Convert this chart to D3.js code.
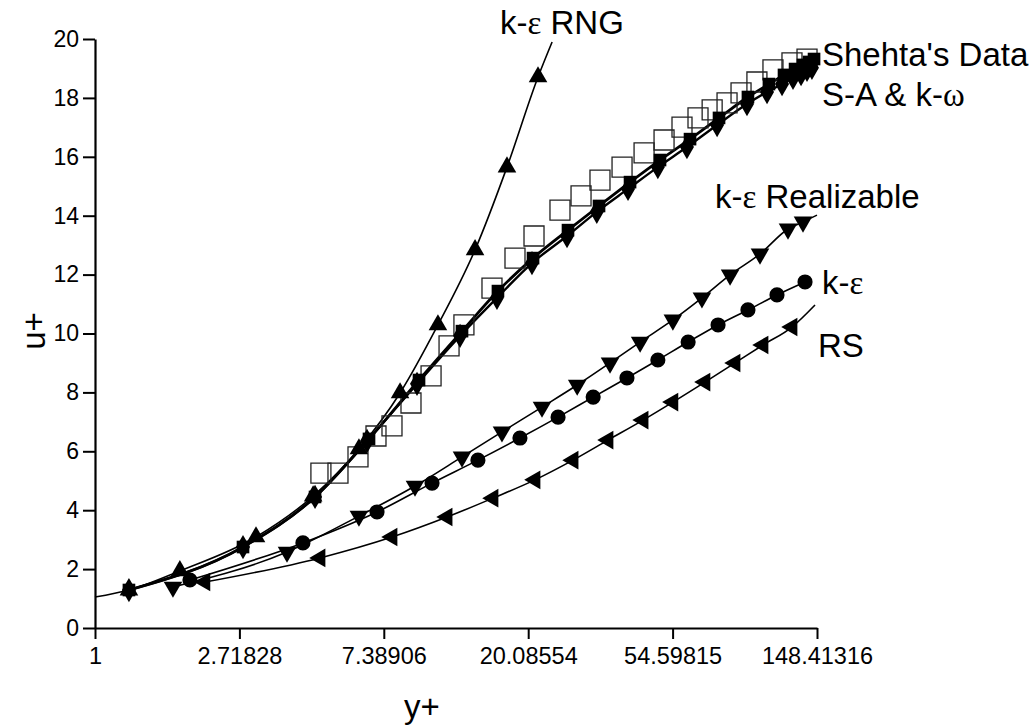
<!DOCTYPE html>
<html><head><meta charset="utf-8">
<script src="https://cdn.jsdelivr.net/npm/d3@7"></script>
<style>body{margin:0;background:#fff}svg{display:block}</style>
</head><body>
<svg id="chart" width="1032" height="725"></svg>
<script>
// ---- data (x = y+, y = u+) ----
const xTickLabels = ["1","2.71828","7.38906","20.08554","54.59815","148.41316"];
const yTicks = [0,2,4,6,8,10,12,14,16,18,20];

const shehtaX = [4.78,5.38,6.18,7.00,7.82,8.92,10.25,11.61,12.87,15.63,18.33,20.91,25.03,28.96,33.02,38.47,44.81,51.46,58.27,65.1,71.8,79.6,87.7,97.9,109.4,124.8,138.5];
const shehtaY = [5.26,5.26,5.81,6.52,6.86,7.64,8.56,9.58,10.29,11.54,12.56,13.31,14.19,14.67,15.21,15.65,16.13,16.57,17.01,17.32,17.59,17.83,18.17,18.54,18.95,19.19,19.32];

const saX = [1.265,2.787,4.59,6.67,9.43,12.70,16.29,20.77,26.46,32.8,40.66,50.04,61.6,75.3,92.0,106.4,118.1,127.5,134.7,140.5,145.4];
const saY = [1.29,2.75,4.45,6.42,8.42,10.08,11.44,12.56,13.51,14.33,15.14,15.89,16.60,17.32,18.03,18.47,18.78,18.98,19.12,19.22,19.32];

const kwX = [1.265,2.787,4.59,6.58,9.30,12.53,16.18,20.62,26.28,32.3,40.1,49.3,60.3,74.3,91.4,105.0,116.5,125.7,132.9,138.5,143.3];
const kwY = [1.29,2.75,4.45,6.35,8.29,9.92,11.21,12.39,13.31,14.13,14.91,15.65,16.33,17.08,17.79,18.20,18.47,18.68,18.81,18.95,19.02];

// first and last entries are line-only (no symbol)
const rngX = [1.0,1.265,1.80,3.05,4.53,6.22,8.27,10.75,13.90,17.34,21.5,23.7];
const rngY = [1.05,1.29,1.94,3.09,4.48,6.08,7.98,10.29,12.84,15.65,18.71,19.90];

const realX = [1.716,3.78,6.22,9.17,12.70,16.75,22.1,28.2,35.4,43.6,54.7,66.9,81.3,100.0,121.4,134.7,148.4];
const realY = [1.39,2.58,3.80,4.82,5.81,6.66,7.50,8.25,9.00,9.71,10.46,11.21,11.99,12.70,13.55,13.79,14.02];

const keX = [1.93,4.22,7.05,10.32,14.18,18.97,24.7,31.5,39.8,49.3,60.8,74.8,92.0,112.5,136.6];
const keY = [1.63,2.89,3.94,4.92,5.70,6.45,7.16,7.84,8.49,9.10,9.71,10.29,10.80,11.31,11.75];

const rsX = [2.14,4.75,7.82,11.45,15.74,21.05,27.4,34.9,44.5,54.7,68.3,84.1,102.1,124.8,146.4];
const rsY = [1.56,2.38,3.09,3.77,4.41,5.03,5.70,6.38,7.06,7.67,8.35,9.00,9.61,10.22,10.97];

// ---- chart ----
const svg = d3.select("#chart");
const x = d3.scaleLog().base(Math.E).domain([1, Math.exp(5)]).range([95, 817]);
const y = d3.scaleLinear().domain([0, 20]).range([628, 39]);
const FONT = "Arial, 'Liberation Sans', Helvetica, sans-serif";

const zip = (a, b) => a.map((v, i) => [v, b[i]]);
const line = d3.line().x(d => x(d[0])).y(d => y(d[1])).curve(d3.curveMonotoneX);

// axes
const majorX = d3.range(0, 6).map(k => Math.exp(k));
const minorX = [];
for (let k = 0; k < 5; k++) for (let j = 1; j <= 8; j++) minorX.push(Math.exp(k) * (1 + j * (Math.E - 1) / 9));

const gx = svg.append("g").attr("transform", "translate(0,628)");
gx.call(d3.axisBottom(x).tickValues(minorX).tickSize(5).tickFormat(""));
gx.call(d3.axisBottom(x).tickValues(majorX).tickSize(11).tickSizeOuter(0).tickFormat((d, i) => xTickLabels[i]));
gx.selectAll("path.domain").attr("stroke-width", 2.2).attr("stroke", "#000");
gx.selectAll("line").attr("stroke-width", 2).attr("stroke", "#000");
gx.selectAll("text").attr("font-family", FONT).attr("font-size", 23.5).attr("fill", "#000").attr("dy", "0.71em").attr("y", 19);

const gy = svg.append("g").attr("transform", "translate(95,0)");
gy.call(d3.axisLeft(y).tickValues(d3.range(1, 20, 2)).tickSize(6).tickFormat(""));
gy.call(d3.axisLeft(y).tickValues(yTicks).tickSize(12).tickSizeOuter(0).tickFormat(d3.format("d")));
gy.selectAll("path.domain").attr("stroke-width", 2.2).attr("stroke", "#000");
gy.selectAll("line").attr("stroke-width", 2).attr("stroke", "#000");
gy.selectAll("text").attr("font-family", FONT).attr("font-size", 23).attr("fill", "#000").attr("x", -16);

// series lines
const plot = svg.append("g");
function drawLine(data, w) {
  plot.append("path").datum(data).attr("d", line).attr("fill", "none").attr("stroke", "#000").attr("stroke-width", w);
}
drawLine(zip(rngX, rngY), 1.6);
drawLine(zip(realX, realY), 1.6);
drawLine(zip(keX, keY), 1.6);
drawLine(zip(rsX, rsY), 1.6);
drawLine(zip(kwX, kwY), 2.4);
drawLine(zip(saX, saY), 2.8);

// markers
function markers(data, type, size, opts = {}) {
  const sym = d3.symbol().type(type).size(size);
  plot.append("g").selectAll("path").data(data).join("path")
    .attr("transform", d => `translate(${x(d[0])},${y(d[1])})${opts.rot ? " rotate(" + opts.rot + ")" : ""}`)
    .attr("d", sym)
    .attr("fill", opts.fill || "#000")
    .attr("stroke", opts.stroke || "none")
    .attr("stroke-width", opts.sw || 0);
}
markers(zip(shehtaX, shehtaY), d3.symbolSquare, 400, {fill: "none", stroke: "#222", sw: 1.3});
markers(zip(rngX, rngY).slice(1, -1), d3.symbolTriangle, 150);
markers(zip(realX, realY).slice(0, -1), d3.symbolTriangle, 150, {rot: 180});
markers(zip(keX, keY), d3.symbolCircle, 180);
markers(zip(rsX, rsY).slice(0, -1), d3.symbolTriangle, 150, {rot: -90});
markers(zip(kwX, kwY), d3.symbolDiamond, 170);
markers(zip(saX, saY), d3.symbolSquare, 160);

// labels
const GREEK = "'Times New Roman', 'Liberation Serif', 'DejaVu Serif', serif";
function label(xp, yp, parts) {
  const t = svg.append("text").attr("x", xp).attr("y", yp).attr("font-family", FONT).attr("font-size", 33).attr("fill", "#000");
  parts.forEach(p => {
    const s = t.append("tspan").text(p[0]);
    if (p[1]) s.attr("font-family", GREEK);
  });
}
label(500, 34, [["k-"], ["ε", true], [" RNG"]]);
label(822, 66, [["Shehta's Data"]]);
label(822, 106, [["S-A & k-"], ["ω", true]]);
label(715, 208, [["k-"], ["ε", true], [" Realizable"]]);
label(822, 294, [["k-"], ["ε", true]]);
label(818, 357, [["RS"]]);

svg.append("text").attr("transform", "translate(45,331) rotate(-90)").attr("text-anchor", "middle")
  .attr("font-family", FONT).attr("font-size", 33).text("u+");
svg.append("text").attr("x", 422).attr("y", 718).attr("text-anchor", "middle")
  .attr("font-family", FONT).attr("font-size", 33).text("y+");
</script>
</body></html>
